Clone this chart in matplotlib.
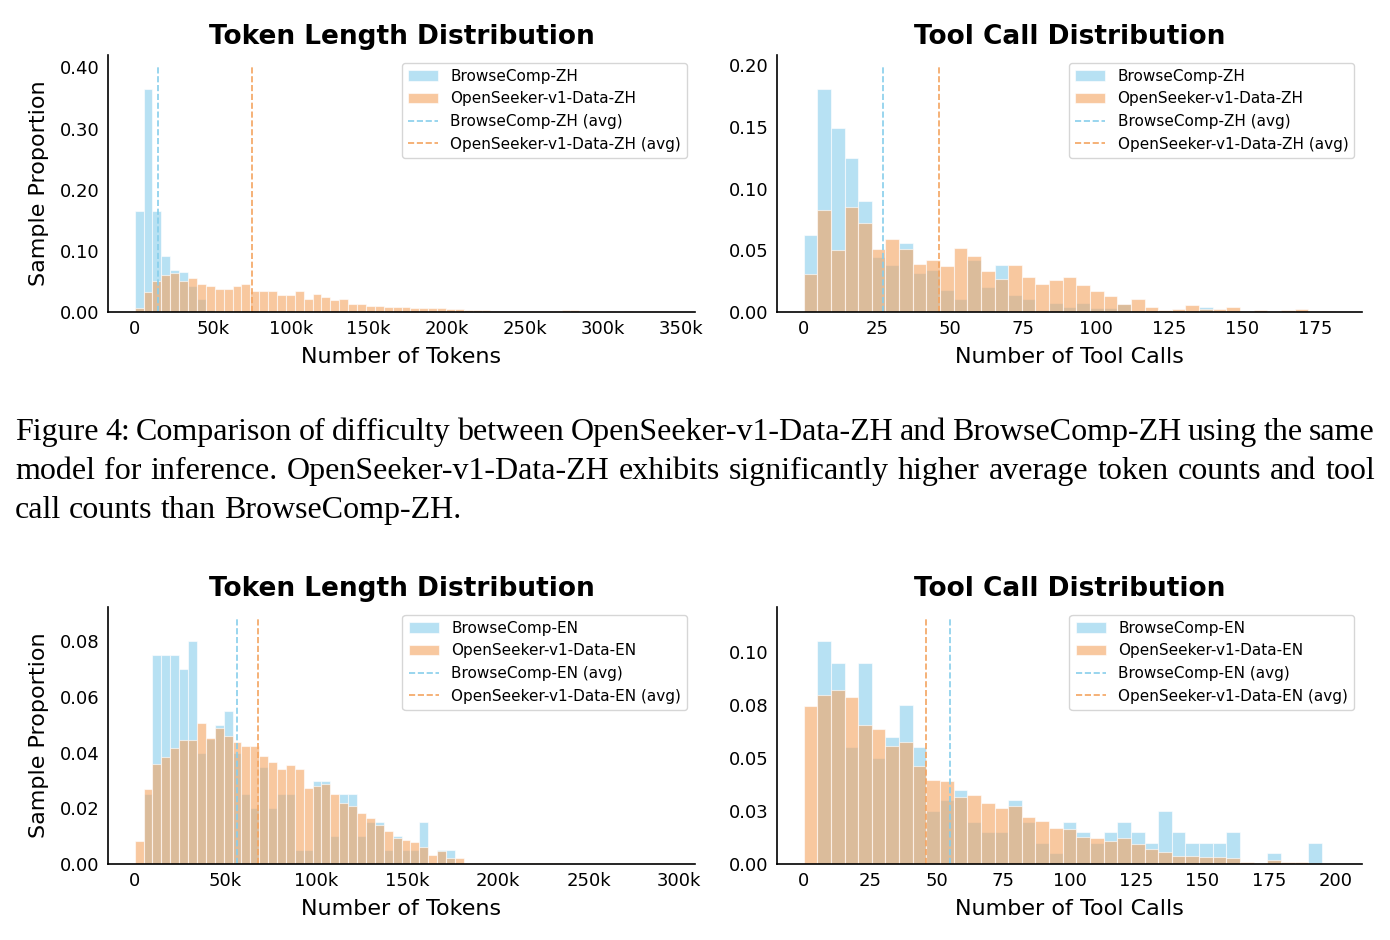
import numpy as np
import matplotlib
matplotlib.use("Agg")
from matplotlib import pyplot as plt
from matplotlib.ticker import MultipleLocator, FuncFormatter, FormatStrFormatter


# Valores (proporcao de amostras por bin)
zh_token_max = 342000
zh_token_bc = [0.166, 0.364, 0.166, 0.091, 0.069, 0.066, 0.043, 0.021, 0.004, 0.002,
               0.001, 0.001, 0.001] + [0.0] * 47
zh_token_os = [0.007, 0.033, 0.051, 0.060, 0.064, 0.050, 0.056, 0.045, 0.043, 0.037,
               0.037, 0.043, 0.045, 0.034, 0.035, 0.035, 0.028, 0.027, 0.034, 0.022,
               0.029, 0.025, 0.019, 0.021, 0.013, 0.013, 0.010, 0.009, 0.008, 0.008,
               0.008, 0.006, 0.006, 0.006, 0.006, 0.005, 0.005, 0.004, 0.003, 0.003,
               0.002, 0.002, 0.002, 0.002, 0.002, 0.001, 0.002, 0.001, 0.003, 0.003,
               0.002, 0.001, 0.0, 0.001, 0.0, 0.001, 0.0, 0.001, 0.002, 0.001]
zh_token_avg = [14800, 75400]

zh_tool_max = 182
zh_tool_bc = [0.0626, 0.1805, 0.149, 0.125, 0.090, 0.045, 0.038, 0.0556, 0.0314, 0.0344,
              0.0176, 0.0106, 0.0423, 0.0206, 0.038, 0.0138, 0.0103, 0.002, 0.007, 0.004,
              0.007, 0.0035, 0.0035, 0.0065, 0.001, 0.0, 0.0, 0.0, 0.0, 0.0038,
              0.0, 0.0, 0.0, 0.0, 0.0, 0.0, 0.0, 0.0, 0.0]
zh_tool_os = [0.0309, 0.0829, 0.0504, 0.0848, 0.0718, 0.0515, 0.0596, 0.0512, 0.039, 0.042,
              0.0377, 0.0523, 0.0455, 0.033, 0.027, 0.038, 0.028, 0.0225, 0.026, 0.028,
              0.0217, 0.0168, 0.0133, 0.0065, 0.0103, 0.0038, 0.0014, 0.0027, 0.0054, 0.0027,
              0.0027, 0.004, 0.0, 0.0014, 0.0, 0.0014, 0.0027, 0.0, 0.0007]
zh_tool_avg = [27.1, 46.4]

en_token_max = 294000
en_token_bc = [0.0, 0.025, 0.075, 0.075, 0.075, 0.070, 0.080, 0.040, 0.045, 0.050,
               0.055, 0.040, 0.025, 0.020, 0.035, 0.020, 0.025, 0.025, 0.005, 0.005,
               0.030, 0.030, 0.010, 0.025, 0.025, 0.010, 0.015, 0.015, 0.005, 0.010,
               0.005, 0.005, 0.015, 0.0, 0.005, 0.005] + [0.0] * 24
en_token_os = [0.0081, 0.027, 0.0358, 0.0386, 0.0417, 0.0446, 0.0446, 0.0507, 0.0454, 0.0489,
               0.0459, 0.0438, 0.0425, 0.0425, 0.0387, 0.0365, 0.034, 0.0356, 0.034, 0.0274,
               0.0279, 0.0288, 0.0252, 0.0219, 0.0209, 0.0182, 0.0167, 0.0141, 0.0118, 0.0092,
               0.0086, 0.008, 0.0062, 0.0032, 0.0047, 0.002, 0.002, 0.0005, 0.0005, 0.0005,
               0.0005, 0.0003, 0.0002, 0.0002, 0.0002, 0.0002, 0.0002, 0.0002, 0.0, 0.0,
               0.0, 0.0, 0.0, 0.0, 0.0, 0.0, 0.0, 0.0, 0.0002, 0.0002]
en_token_avg = [56300, 67700]

en_tool_max = 200
en_tool_bc = [0.0, 0.105, 0.095, 0.055, 0.095, 0.050, 0.060, 0.075, 0.055, 0.025,
              0.030, 0.035, 0.020, 0.015, 0.015, 0.030, 0.020, 0.010, 0.005, 0.020,
              0.015, 0.010, 0.015, 0.020, 0.015, 0.010, 0.025, 0.015, 0.010, 0.010,
              0.010, 0.015, 0.0, 0.0, 0.005, 0.0, 0.0, 0.010, 0.0]
en_tool_os = [0.0745, 0.0796, 0.0819, 0.0786, 0.0656, 0.0637, 0.0558, 0.0577, 0.0464, 0.0398,
              0.0392, 0.0314, 0.0327, 0.0288, 0.0264, 0.0275, 0.022, 0.0204, 0.0171, 0.0167,
              0.0129, 0.0123, 0.011, 0.0123, 0.0094, 0.0072, 0.0057, 0.0039, 0.0039, 0.0035,
              0.0035, 0.0027, 0.001, 0.0003, 0.0019, 0.0008, 0.0008, 0.0003, 0.0003]
en_tool_avg = [55.2, 46.0]

caption = [
    "Figure 4: Comparison of difficulty between OpenSeeker-v1-Data-ZH and BrowseComp-ZH using the same",
    "model for inference. OpenSeeker-v1-Data-ZH exhibits significantly higher average token counts and tool",
    "call counts than BrowseComp-ZH.",
]

AZUL = "#87CEEB"
LARANJA = "#F4A460"
W, H = 1390, 940


'''
    Desenha um histograma (ja em proporcoes) com as medias.
'''
def histograma(ax, vmax, bc, os_, avg, sufixo, titulo, xlabel, ylabel, tokens, ystep):
    edges = np.linspace(0, vmax, len(bc) + 1)
    larg = np.diff(edges)
    b1 = ax.bar(edges[:-1], bc, width=larg, align="edge", color=AZUL, alpha=0.6,
                edgecolor="white", linewidth=0.8, label=f"BrowseComp-{sufixo}")
    b2 = ax.bar(edges[:-1], os_, width=larg, align="edge", color=LARANJA, alpha=0.6,
                edgecolor="white", linewidth=0.8, label=f"OpenSeeker-v1-Data-{sufixo}")
    topo = max(max(bc), max(os_)) * 1.1
    l1, = ax.plot([avg[0], avg[0]], [0, topo], "--", color=AZUL, lw=1.2,
                  label=f"BrowseComp-{sufixo} (avg)")
    l2, = ax.plot([avg[1], avg[1]], [0, topo], "--", color=LARANJA, lw=1.2,
                  label=f"OpenSeeker-v1-Data-{sufixo} (avg)")

    ax.set_title(titulo, fontsize=19, fontweight="bold", pad=8)
    ax.set_xlabel(xlabel, fontsize=16, labelpad=6)
    if ylabel:
        ax.set_ylabel("Sample Proportion", fontsize=16, labelpad=8)
    ax.legend(handles=[b1, b2, l1, l2], fontsize=11, loc="upper right")

    for s in ["top", "right"]:
        ax.spines[s].set_visible(False)
    for s in ["left", "bottom"]:
        ax.spines[s].set_linewidth(1.2)
    ax.tick_params(length=0, labelsize=13, pad=6)
    ax.yaxis.set_major_locator(MultipleLocator(ystep))
    ax.yaxis.set_major_formatter(FormatStrFormatter("%.2f"))
    if tokens:
        ax.xaxis.set_major_locator(MultipleLocator(50000))
        ax.xaxis.set_major_formatter(FuncFormatter(
            lambda x, p: "0" if x == 0 else f"{int(round(x / 1000))}k"))
    else:
        ax.xaxis.set_major_locator(MultipleLocator(25))


'''
    Legenda da figura, justificada como no artigo.
'''
def legenda(fig, linhas, x0=15, x1=1375, y0=440, dy=39):
    r = fig.canvas.get_renderer()
    for i, linha in enumerate(linhas):
        palavras = linha.split(" ")
        y = 1 - (y0 + i * dy) / H
        txts = [fig.text(0, y, p, fontsize=23, family="Liberation Serif", va="baseline")
                for p in palavras]
        larg = [t.get_window_extent(r).width for t in txts]
        if i < len(linhas) - 1:
            gap = (x1 - x0 - sum(larg)) / (len(palavras) - 1)
        else:
            esp = fig.text(0, 0, "a a", fontsize=23, family="Liberation Serif")
            sem = fig.text(0, 0, "aa", fontsize=23, family="Liberation Serif")
            gap = esp.get_window_extent(r).width - sem.get_window_extent(r).width
            esp.remove()
            sem.remove()
        x = x0
        for t, w in zip(txts, larg):
            t.set_x(x / W)
            x += w + gap


'''
    MAIN
'''
def main():
    fig = plt.figure(figsize=(W / 100, H / 100), dpi=100)

    def eixo(x0, x1, ytop, ybot):
        return fig.add_axes([x0 / W, 1 - ybot / H, (x1 - x0) / W, (ybot - ytop) / H])

    ax1 = eixo(108, 695, 55, 312)
    ax2 = eixo(777, 1362, 55, 312)
    ax3 = eixo(108, 695, 607, 864)
    ax4 = eixo(777, 1362, 607, 864)

    histograma(ax1, zh_token_max, zh_token_bc, zh_token_os, zh_token_avg, "ZH",
               "Token Length Distribution", "Number of Tokens", True, True, 0.1)
    histograma(ax2, zh_tool_max, zh_tool_bc, zh_tool_os, zh_tool_avg, "ZH",
               "Tool Call Distribution", "Number of Tool Calls", False, False, 0.05)
    histograma(ax3, en_token_max, en_token_bc, en_token_os, en_token_avg, "EN",
               "Token Length Distribution", "Number of Tokens", True, True, 0.02)
    histograma(ax4, en_tool_max, en_tool_bc, en_tool_os, en_tool_avg, "EN",
               "Tool Call Distribution", "Number of Tool Calls", False, False, 0.025)

    fig.canvas.draw()
    legenda(fig, caption)

    fig.savefig("out.png", dpi=100)


if __name__ == "__main__":
    main()
